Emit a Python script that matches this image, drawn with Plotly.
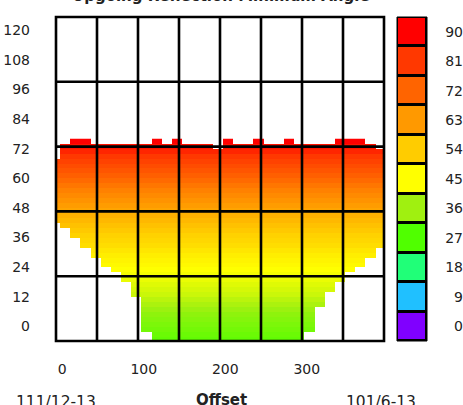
import plotly.graph_objects as go

# ---------------- data ----------------
title_text = "Upgoing Reflection Minimum Angle"
x_title = "Offset"
left_label = "111/12-13"
right_label = "101/6-13"

# offset bin centres
offsets = [-9, 3.5, 16, 28.5, 41, 53.5, 66, 78.5, 91, 103.5, 116, 128.5, 141,
           153.5, 166, 178.5, 191, 203.5, 216, 228.5, 241, 253.5, 266, 278.5,
           291, 303.5, 316, 328.5, 341, 353.5, 366, 378.5, 391]
# lower / upper edge of the covered region for each offset column
col_bottom = [42, 40, 36, 32, 28, 24, 22, 18, 12, -2,
              -6, -6, -6, -6, -6, -6, -6, -6, -6, -6, -6, -6, -6, -6, -6,
              -2, 8, 14, 18, 22, 24, 28, 32]
col_top = [68, 74, 76, 76, 74, 74, 74, 74, 74, 74,
           76, 74, 76, 74, 74, 74, 72, 76, 74, 74, 76, 74, 74, 76,
           74, 74, 74, 74, 76, 76, 76, 74, 72]

# vertical bin centres and the angle read for each row
rows = [-5, -3, -1, 1, 3, 5, 7, 9, 11, 13, 15, 17, 19, 21, 23, 25, 27, 29, 31,
        33, 35, 37, 39, 41, 43, 45, 47, 49, 51, 53, 55, 57, 59, 61, 63, 65, 67,
        69, 71, 73, 75]
angle_profile = [29, 30, 31, 32, 33, 34, 35.5, 37, 38.5, 40, 41, 42, 43, 44,
                 45, 46, 47, 48, 49.5, 51, 52, 53, 54.5, 56, 57.5, 59, 61,
                 62.5, 64, 65.5, 67, 69, 71, 73, 75, 77, 79, 81, 84, 87, 90]

y_ticks = [0, 12, 24, 36, 48, 60, 72, 84, 96, 108, 120]
x_ticks = [0, 100, 200, 300]

levels = [0, 9, 18, 27, 36, 45, 54, 63, 72, 81, 90]
level_colors = ["#8000ff", "#20c0ff", "#20ff78", "#50ff00", "#a0f010",
                "#ffff00", "#ffcc00", "#ff9900", "#ff6400", "#ff3800",
                "#ff0000"]

# ---------------- build ----------------
colorscale = [[lv / levels[-1], c] for lv, c in zip(levels, level_colors)]

z = []
for yi, val in zip(rows, angle_profile):
    row = []
    for b, t in zip(col_bottom, col_top):
        row.append(val if (b < yi < t) else None)
    z.append(row)

FONT = "DejaVu Sans"

fig = go.Figure()
fig.add_trace(go.Heatmap(
    x=offsets, y=rows, z=z, colorscale=colorscale, zmin=levels[0],
    zmax=levels[-1], showscale=False, xaxis="x", yaxis="y",
    hoverongaps=False))

# discrete colour legend drawn as its own heatmap
fig.add_trace(go.Heatmap(
    x=[0], y=levels, z=[[lv] for lv in levels], colorscale=colorscale,
    zmin=levels[0], zmax=levels[-1], showscale=False, xgap=3, ygap=3,
    xaxis="x2", yaxis="y2"))

W, H = 463, 405
ml, mr, mt, mb = 56, 0, 17, 64
pw = W - ml - mr
main_w = 328

shapes = []
for i in range(1, 8):
    shapes.append(dict(type="line", xref="x domain", yref="y domain",
                       x0=i / 8, x1=i / 8, y0=0, y1=1,
                       line=dict(color="black", width=2.6)))
for j in range(1, 5):
    shapes.append(dict(type="line", xref="x domain", yref="y domain",
                       x0=0, x1=1, y0=j / 5, y1=j / 5,
                       line=dict(color="black", width=2.6)))
shapes.append(dict(type="rect", xref="x domain", yref="y domain",
                   x0=0, x1=1, y0=0, y1=1,
                   line=dict(color="black", width=2.6)))
shapes.append(dict(type="rect", xref="x2 domain", yref="y2 domain",
                   x0=0, x1=1, y0=0, y1=1, layer="below",
                   fillcolor="black", line=dict(color="black", width=1)))

fig.update_layout(
    width=W, height=H,
    margin=dict(l=ml, r=mr, t=mt, b=mb, pad=0),
    paper_bgcolor="white", plot_bgcolor="white",
    font=dict(family=FONT, size=14, color="#222"),
    showlegend=False,
    shapes=shapes,
    xaxis=dict(domain=[0, main_w / pw], range=[-7.7, 394.7],
               tickvals=x_ticks, showgrid=False, zeroline=False,
               showline=False, ticks="", ticklabelstandoff=18,
               tickfont=dict(size=14)),
    yaxis=dict(domain=[0, 1], range=[-5.9, 125.3], tickvals=y_ticks,
               showgrid=False, zeroline=False, showline=False, ticks="",
               ticklabelstandoff=25, tickfont=dict(size=14)),
    xaxis2=dict(domain=[(397 - ml) / pw, (427 - ml) / pw], range=[-0.5, 0.5],
                visible=False, anchor="y2"),
    yaxis2=dict(domain=[0, 1], range=[-4.5, 94.5], tickvals=levels,
                anchor="free", side="left", position=1.0,
                showgrid=False, zeroline=False, showline=False, ticks="",
                tickfont=dict(size=14)),
    annotations=[
        dict(text="<b>" + title_text + "</b>", xref="paper", yref="paper",
             x=(221 - ml) / pw, y=1, xanchor="center", yanchor="bottom",
             yshift=10, showarrow=False, font=dict(size=15, family=FONT)),
        dict(text="<b>" + x_title + "</b>", xref="paper", yref="paper",
             x=(221 - ml) / pw, y=0, xanchor="center", yanchor="top",
             yshift=-48, showarrow=False, font=dict(size=15, family=FONT)),
        dict(text=left_label, xref="paper", yref="paper",
             x=(14 - ml) / pw, y=0, xanchor="left", yanchor="top",
             yshift=-50, showarrow=False, font=dict(size=15.5, family=FONT)),
        dict(text=right_label, xref="paper", yref="paper",
             x=(418 - ml) / pw, y=0, xanchor="right", yanchor="top",
             yshift=-50, showarrow=False, font=dict(size=15.5, family=FONT)),
    ],
)

fig.write_html("out.html")
